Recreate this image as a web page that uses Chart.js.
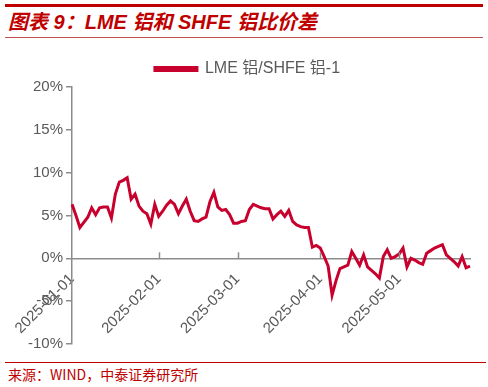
<!DOCTYPE html>
<html>
<head>
<meta charset="utf-8">
<script src="https://cdn.jsdelivr.net/npm/chart.js@4/dist/chart.umd.min.js"></script>
<style>
  html, body { margin: 0; padding: 0; background: #fff; }
  #wrap { position: relative; width: 488px; height: 387px; overflow: hidden; }
  #title {
    position: absolute; left: 5px; top: 4px; width: 478px; height: 34px;
    border-top: 3px solid #c00000; border-bottom: 1px solid #c0504d;
    box-sizing: border-box;
    font: italic bold 20px "Liberation Sans", "Noto Sans CJK SC", sans-serif;
    color: #c00000; line-height: 31px; padding-left: 3px;
  }
  #source {
    position: absolute; left: 5px; top: 362px; width: 478px;
    border-top: 1px solid #c00000;
    font: 14px "Noto Sans CJK SC", sans-serif; color: #c00000;
    padding-left: 3px; line-height: 22px;
  }
  #chart-box { position: absolute; left: 0; top: 40px; width: 488px; height: 320px; }
</style>
</head>
<body>
<div id="wrap">
  <div id="title">图表 9：LME 铝和 SHFE 铝比价差</div>
  <div id="chart-box"><canvas id="chart"></canvas></div>
  <div id="source">来源：WIND，中泰证券研究所</div>
</div>
<script>
// 交易日
var dates = [
  '2025-01-02','2025-01-03','2025-01-06','2025-01-07','2025-01-08','2025-01-09','2025-01-10','2025-01-13','2025-01-14','2025-01-15','2025-01-16',
  '2025-01-17','2025-01-20','2025-01-21','2025-01-22','2025-01-23','2025-01-24','2025-01-27','2025-01-28','2025-01-29','2025-01-30','2025-01-31',
  '2025-02-03','2025-02-04','2025-02-05','2025-02-06','2025-02-07','2025-02-10','2025-02-11','2025-02-12','2025-02-13','2025-02-14',
  '2025-02-17','2025-02-18','2025-02-19','2025-02-20','2025-02-21','2025-02-24','2025-02-25','2025-02-26','2025-02-27','2025-02-28',
  '2025-03-03','2025-03-04','2025-03-05','2025-03-06','2025-03-07','2025-03-10','2025-03-11','2025-03-12','2025-03-13','2025-03-14','2025-03-17',
  '2025-03-18','2025-03-19','2025-03-20','2025-03-21','2025-03-24','2025-03-25','2025-03-26','2025-03-27','2025-03-28','2025-03-31',
  '2025-04-01','2025-04-02','2025-04-03','2025-04-04','2025-04-07','2025-04-08','2025-04-09','2025-04-10','2025-04-11','2025-04-14',
  '2025-04-15','2025-04-16','2025-04-17','2025-04-22','2025-04-23','2025-04-24','2025-04-25','2025-04-28','2025-04-29','2025-04-30',
  '2025-05-01','2025-05-02','2025-05-06','2025-05-07','2025-05-08','2025-05-09','2025-05-12','2025-05-13','2025-05-14','2025-05-15',
  '2025-05-16','2025-05-19','2025-05-20','2025-05-21','2025-05-22','2025-05-23','2025-05-27','2025-05-28','2025-05-29'
];

// LME 铝/SHFE 铝-1 (%)
var spread = [
  6.3, 5.0, 3.6, 4.2, 4.8, 5.9, 5.1, 5.9, 6.0, 6.0, 4.7,
  7.5, 8.9, 9.1, 9.4, 6.9, 7.5, 6.1, 5.5, 5.2, 4.0, 6.3,
  4.9, 5.5, 6.2, 6.7, 6.3, 5.2, 6.1, 6.9, 5.5, 4.4,
  4.3, 4.6, 4.8, 6.6, 7.7, 6.0, 5.6, 5.7, 5.1, 4.1,
  4.1, 4.3, 4.4, 5.7, 6.3, 6.1, 5.9, 5.8, 5.8, 4.6, 5.1,
  5.5, 4.9, 5.6, 4.3, 3.9, 3.7, 3.6, 3.6, 1.3, 1.5,
  1.2, 0.2, -0.9, -4.3, -2.6, -1.2, -1.0, -0.8, 0.8, 0.0,
  -0.8, 0.4, -1.0, -1.4, -1.8, -2.3, 0.2, 1.0, 0.0, 0.2,
  0.5, 1.2, -1.0, 0.0, -0.2, -0.5, -0.7, 0.6, 0.9, 1.2,
  1.4, 1.6, 0.4, 0.0, -0.4, -0.9, 0.2, -1.1, -0.9
];

var yTicks = [-10, -5, 0, 5, 10, 15, 20];
var seriesName = 'LME 铝/SHFE 铝-1';

var lineColor = '#c8002d';
var axisColor = '#8c8c8c';
var textColor = '#595959';

function isMonthStart(i) {
  return i === 0 || dates[i].slice(0, 7) !== dates[i - 1].slice(0, 7);
}

// x轴刻度线向上画
var upTicks = {
  id: 'upTicks',
  afterDatasetsDraw: function(chart) {
    var x = chart.scales.x, y = chart.scales.y;
    var ctx = chart.ctx;
    var y0 = y.getPixelForValue(0);
    ctx.save();
    ctx.strokeStyle = axisColor;
    ctx.lineWidth = 1.5;
    for (var i = 1; i < dates.length; i++) {
      if (!isMonthStart(i)) continue;
      var px = Math.round(x.getPixelForValue(i)) + 0.5;
      ctx.beginPath();
      ctx.moveTo(px, y0);
      ctx.lineTo(px, y0 - 6);
      ctx.stroke();
    }
    ctx.restore();
  }
};

var ctx = document.getElementById('chart').getContext('2d');
var chart = new Chart(ctx, {
  type: 'line',
  data: {
    labels: dates,
    datasets: [{
      label: seriesName,
      data: spread,
      borderColor: lineColor,
      backgroundColor: lineColor,
      borderWidth: 3,
      pointRadius: 0,
      tension: 0
    }]
  },
  options: {
    responsive: true,
    maintainAspectRatio: false,
    animation: false,
    layout: { padding: { left: 25, right: 18, top: 1, bottom: 16 } },
    plugins: {
      legend: {
        display: true,
        position: 'top',
        labels: {
          boxWidth: 42,
          boxHeight: 3,
          color: textColor,
          font: { size: 16, family: 'Liberation Sans, "Noto Sans CJK SC", sans-serif' },
          padding: 20
        }
      },
      tooltip: { enabled: false }
    },
    scales: {
      x: {
        type: 'category',
        position: { y: 0 },
        offset: false,
        grid: { display: false },
        border: { color: axisColor, width: 1.5 },
        ticks: {
          autoSkip: false,
          maxRotation: 45,
          minRotation: 45,
          color: textColor,
          padding: 4,
          font: { size: 15, family: 'Liberation Sans, sans-serif' },
          callback: function(val, i) {
            if (!isMonthStart(i)) return '';
            return dates[i].slice(0, 8) + '01';
          }
        }
      },
      y: {
        min: -10,
        max: 20,
        afterBuildTicks: function(scale) {
          scale.ticks = yTicks.map(function(v) { return { value: v }; });
        },
        grid: { drawOnChartArea: false, tickLength: 6, color: axisColor, lineWidth: 1.5 },
        border: { color: axisColor, width: 1.5 },
        ticks: {
          color: textColor,
          padding: 3,
          font: { size: 15, family: 'Liberation Sans, sans-serif' },
          callback: function(v) { return v + '%'; }
        }
      }
    }
  },
  plugins: [upTicks]
});
</script>
</body>
</html>
